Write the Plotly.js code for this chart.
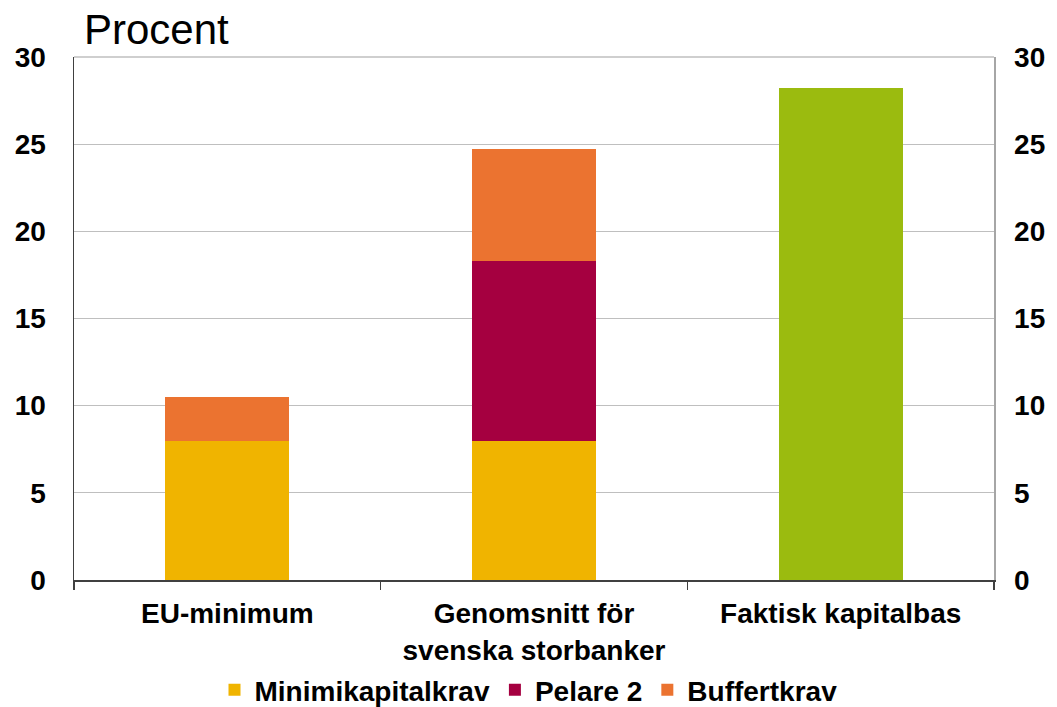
<!DOCTYPE html>
<html><head><meta charset="utf-8">
<script src="https://cdn.plot.ly/plotly-3.0.1.min.js"></script>
<style>body{margin:0;background:#fff}#c{width:1057px;height:707px}</style>
</head><body><div id="c"></div>
<script>
const categories = ["EU-minimum", "Genomsnitt för<br>svenska storbanker", "Faktisk kapitalbas"];
const minimikapitalkrav = [8, 8, null];
const pelare2 = [null, 10.3, null];
const buffertkrav = [2.5, 6.4, null];
const faktiskKapitalbas = [null, null, 28.2];
const yTicks = [0, 5, 10, 15, 20, 25, 30];

const font = "Liberation Sans, Arial, sans-serif";
const bw = 0.405;
const traces = [
  {type:"bar", name:"Minimikapitalkrav", x:categories, y:minimikapitalkrav, marker:{color:"#F0B400"}, width:bw},
  {type:"bar", name:"Pelare 2", x:categories, y:pelare2, marker:{color:"#A50040"}, width:bw},
  {type:"bar", name:"Buffertkrav", x:categories, y:buffertkrav, marker:{color:"#EB7330"}, width:bw},
  {type:"bar", name:"Faktisk kapitalbas", x:categories, y:faktiskKapitalbas, marker:{color:"#9BBB0F"}, width:bw, showlegend:false},
  {type:"scatter", x:categories, y:[null,null,null], yaxis:"y2", showlegend:false, hoverinfo:"skip"}
];
const tf = {size:28, family:font, weight:"bold", color:"#000"};
const layout = {
  width:1057, height:707,
  margin:{l:74, r:63, t:57, b:127},
  barmode:"stack",
  paper_bgcolor:"#fff", plot_bgcolor:"#fff",
  font:{family:font, color:"#000"},
  title:{text:"Procent", x:84/1057, xanchor:"left", y:1-29/707, yanchor:"middle", font:{size:42, family:font, color:"#000"}},
  xaxis:{type:"category", tickson:"boundaries", ticks:"outside", ticklen:8, tickcolor:"#404040", tickwidth:1.5,
    showline:true, linecolor:"#404040", linewidth:1.5, showgrid:false, automargin:false,
    ticklabelstandoff:8, tickfont:tf},
  yaxis:{range:[0,30], tickvals:yTicks, showline:true, linecolor:"#404040", linewidth:1.5, automargin:false,
    gridcolor:"#BFBFBF", gridwidth:1, zeroline:false, ticks:"", ticklabelstandoff:21, tickfont:tf},
  yaxis2:{range:[0,30], tickvals:yTicks, overlaying:"y", side:"right", showline:true, linecolor:"#A6A6A6",
    linewidth:1.5, showgrid:false, zeroline:false, ticks:"", ticklabelstandoff:13, automargin:false, tickfont:tf},
  shapes:[{type:"line", xref:"paper", yref:"paper", x0:0, x1:1, y0:1, y1:1, line:{color:"#BFBFBF", width:1.5}}],
  legend:{orientation:"h", x:0.5, xanchor:"center", xref:"container", yref:"container", y:1-690/707, yanchor:"middle",
    traceorder:"normal", font:{size:28, family:font, weight:"bold", color:"#000"}},
  showlegend:true
};
Plotly.newPlot("c", traces, layout, {displayModeBar:false, staticPlot:true});
</script></body></html>
